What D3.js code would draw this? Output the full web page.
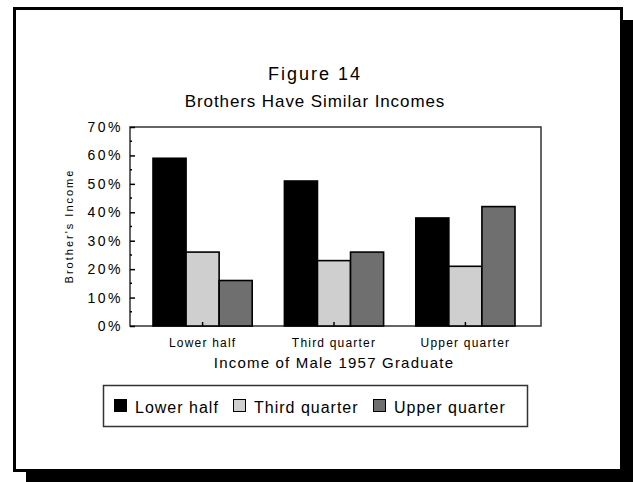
<!DOCTYPE html>
<html>
<head>
<meta charset="utf-8">
<script src="https://d3js.org/d3.v7.min.js"></script>
<style>
  body { margin: 0; background: #fff; }
  text { font-family: "Liberation Sans", Arial, sans-serif; fill: #000; }
</style>
</head>
<body>
<script>
// data
var categories = ["Lower half", "Third quarter", "Upper quarter"];
var seriesNames = ["Lower half", "Third quarter", "Upper quarter"];
var seriesColors = ["#000000", "#cfcfcf", "#6f6f6f"];
var lowerHalf = [59, 51, 38];
var thirdQuarter = [26, 23, 21];
var upperQuarter = [16, 26, 42];
var yTicks = [0, 10, 20, 30, 40, 50, 60, 70];

var W = 633, H = 482;
var svg = d3.select("body").append("svg")
    .attr("width", W)
    .attr("height", H);

// drop shadow + frame
svg.append("rect")
    .attr("x", 26).attr("y", 20)
    .attr("width", 610).attr("height", 470)
    .attr("fill", "#000");
svg.append("rect")
    .attr("x", 14.5).attr("y", 8.5)
    .attr("width", 607).attr("height", 462)
    .attr("fill", "#fff")
    .attr("stroke", "#000")
    .attr("stroke-width", 3);

// titles
svg.append("text")
    .attr("x", 315).attr("y", 80)
    .attr("text-anchor", "middle")
    .style("font-size", "18px")
    .style("letter-spacing", "2px")
    .text("Figure 14");
svg.append("text")
    .attr("x", 315).attr("y", 107)
    .attr("text-anchor", "middle")
    .style("font-size", "17px")
    .style("letter-spacing", "0.9px")
    .text("Brothers Have Similar Incomes");

var plot = {left: 130, top: 127, right: 541, bottom: 326};
var pw = plot.right - plot.left, ph = plot.bottom - plot.top;

var g = svg.append("g").attr("transform", "translate(" + plot.left + "," + plot.top + ")");

var y = d3.scaleLinear().domain([0, 70]).range([ph, 0]);
var x = d3.scaleBand().domain(categories).range([23, pw - 26]).paddingInner(0.245);
var xs = d3.scaleBand().domain(seriesNames).range([0, x.bandwidth()]);

var allSeries = [lowerHalf, thirdQuarter, upperQuarter];

// plot box
g.append("rect")
    .attr("width", pw).attr("height", ph)
    .attr("fill", "#fff")
    .attr("stroke", "#333")
    .attr("stroke-width", 1.5);

// bars
allSeries.forEach(function(vals, si) {
    g.append("g").selectAll("rect")
        .data(vals)
        .enter()
        .append("rect")
        .attr("x", function(d, i) { return x(categories[i]) + xs(seriesNames[si]); })
        .attr("y", function(d) { return y(d); })
        .attr("width", xs.bandwidth())
        .attr("height", function(d) { return y(0) - y(d); })
        .attr("fill", seriesColors[si])
        .attr("stroke", "#000")
        .attr("stroke-width", 1.6);
});

// y axis: ticks inside, minor ticks at 5%
var yAxis = d3.axisLeft(y)
    .tickValues(yTicks)
    .tickSize(-5)
    .tickFormat(function(d) { return d + "%"; });
var ya = g.append("g").call(yAxis);
ya.select(".domain").remove();
ya.selectAll("line").attr("stroke", "#000").attr("stroke-width", 1.5);
ya.selectAll("text")
    .attr("x", -7)
    .style("font-size", "14px")
    .style("letter-spacing", "2.5px");

var minor = d3.range(5, 70, 10);
g.append("g").selectAll("line")
    .data(minor)
    .enter()
    .append("line")
    .attr("x1", 0).attr("x2", 2)
    .attr("y1", function(d) { return y(d); })
    .attr("y2", function(d) { return y(d); })
    .attr("stroke", "#000")
    .attr("stroke-width", 1.5);

// x axis ticks (pointing up inside) and labels
var xAxis = d3.axisBottom(x).tickSize(-4).tickPadding(12);
var xa = g.append("g").attr("transform", "translate(0," + ph + ")").call(xAxis);
xa.select(".domain").remove();
xa.selectAll("line").attr("stroke", "#000").attr("stroke-width", 1.5);
xa.selectAll("text")
    .style("font-size", "12px")
    .style("letter-spacing", "1.2px");

// axis titles
svg.append("text")
    .attr("transform", "translate(73,226) rotate(-90)")
    .attr("text-anchor", "middle")
    .style("font-size", "11px")
    .style("letter-spacing", "2px")
    .text("Brother's Income");
svg.append("text")
    .attr("x", 334).attr("y", 368)
    .attr("text-anchor", "middle")
    .style("font-size", "15px")
    .style("letter-spacing", "1.2px")
    .text("Income of Male 1957 Graduate");

// legend
var leg = svg.append("g");
leg.append("rect")
    .attr("x", 103.5).attr("y", 385.5)
    .attr("width", 424).attr("height", 41)
    .attr("fill", "#fff")
    .attr("stroke", "#333")
    .attr("stroke-width", 1.5);
var legX = [114, 233, 373];
seriesNames.forEach(function(name, i) {
    leg.append("rect")
        .attr("x", legX[i] + 0.5).attr("y", 399.5)
        .attr("width", 12).attr("height", 12)
        .attr("fill", seriesColors[i])
        .attr("stroke", "#000")
        .attr("stroke-width", 1);
    leg.append("text")
        .attr("x", legX[i] + 21).attr("y", 413)
        .style("font-size", "16px")
        .style("letter-spacing", "1px")
        .text(name);
});
</script>
</body>
</html>
